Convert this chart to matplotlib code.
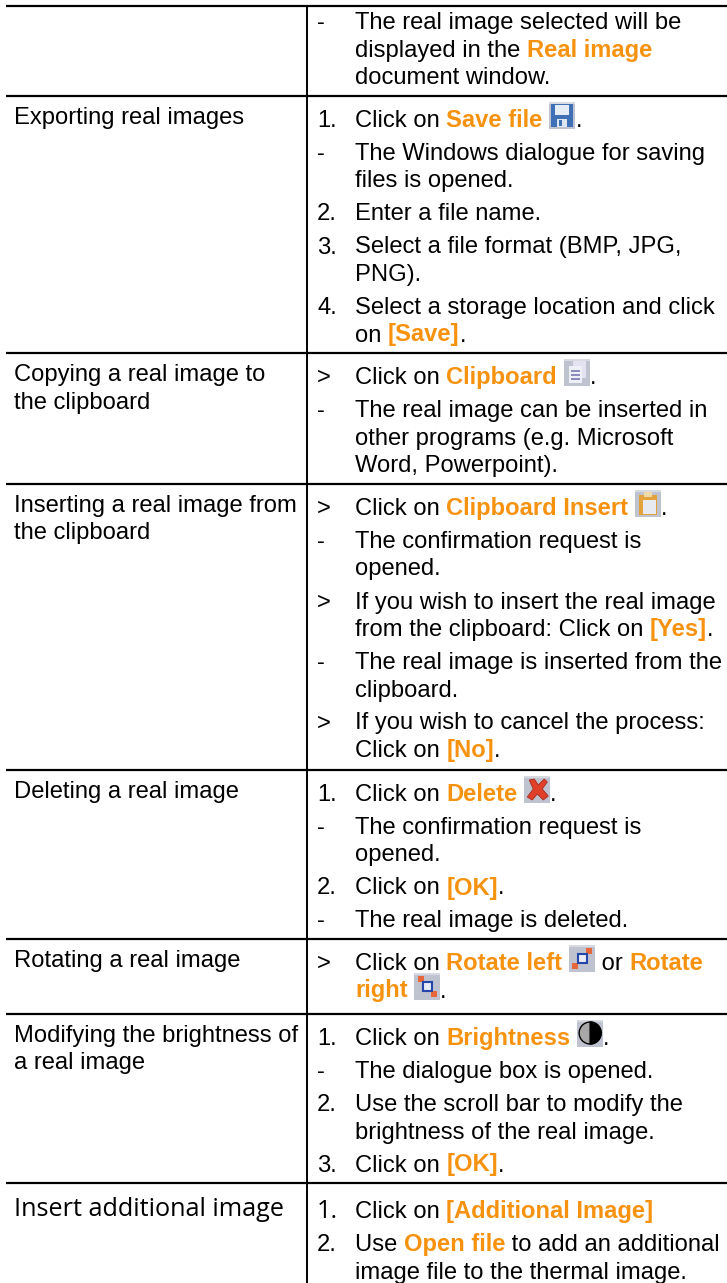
#! /usr/bin/env python
# -*- coding: utf-8 -*-
import re
import matplotlib
matplotlib.use('Agg')
from matplotlib import pyplot as plt
from matplotlib.patches import Rectangle, Circle, Wedge, Polygon

# table content: *bold orange*, {icon}
labels = [
    [],
    ['Exporting real images'],
    ['Copying a real image to', 'the clipboard'],
    ['Inserting a real image from', 'the clipboard'],
    ['Deleting a real image'],
    ['Rotating a real image'],
    ['Modifying the brightness of', 'a real image'],
    ['Insert additional image'],
]
steps = [
    [('-', ['The real image selected will be', 'displayed in the *Real image*', 'document window.'])],
    [('1.', ['Click on *Save file* {save}.']),
     ('-', ['The Windows dialogue for saving', 'files is opened.']),
     ('2.', ['Enter a file name.']),
     ('3.', ['Select a file format (BMP, JPG,', 'PNG).']),
     ('4.', ['Select a storage location and click', 'on *[Save]*.'])],
    [('>', ['Click on *Clipboard* {copy}.']),
     ('-', ['The real image can be inserted in', 'other programs (e.g. Microsoft', 'Word, Powerpoint).'])],
    [('>', ['Click on *Clipboard Insert* {paste}.']),
     ('-', ['The confirmation request is', 'opened.']),
     ('>', ['If you wish to insert the real image', 'from the clipboard: Click on *[Yes]*.']),
     ('-', ['The real image is inserted from the', 'clipboard.']),
     ('>', ['If you wish to cancel the process:', 'Click on *[No]*.'])],
    [('1.', ['Click on *Delete* {delete}.']),
     ('-', ['The confirmation request is', 'opened.']),
     ('2.', ['Click on *[OK]*.']),
     ('-', ['The real image is deleted.'])],
    [('>', ['Click on *Rotate left* {left} or *Rotate*', '*right* {right}.'])],
    [('1.', ['Click on *Brightness* {bright}.']),
     ('-', ['The dialogue box is opened.']),
     ('2.', ['Use the scroll bar to modify the', 'brightness of the real image.']),
     ('3.', ['Click on *[OK]*.'])],
    [('1.', ['Click on *[Additional Image]*']),
     ('2.', ['Use *Open file* to add an additional', 'image file to the thermal image.'])],
]
rule_y = [6, 96, 353, 484, 770, 939, 1014, 1183]

ORANGE = '#F7920F'
ARIAL = 'Liberation Sans'
OTHER = 'Open Sans'
FS = 17.15

fig = plt.figure(figsize=(7.27, 12.83), dpi=100)
ax = fig.add_axes([0, 0, 1, 1])
ax.set_xlim(0, 727)
ax.set_ylim(1283, 0)
ax.axis('off')
rend = fig.canvas.get_renderer()


def text_w(s, **kw):
    # the trailing dot keeps spaces in the measured width
    a = ax.text(0, 0, s + '.', **kw)
    b = ax.text(0, 0, '.', **kw)
    w = a.get_window_extent(rend).width - b.get_window_extent(rend).width
    a.remove()
    b.remove()
    return w


def box(x, y, w, h, c, z=3):
    ax.add_patch(Rectangle((x, y), w, h, fc=c, ec='none', zorder=z))


def draw_icon(name, x, base):
    top = base - 25
    box(x, top, 26, 27, '#BFC3CF')
    box(x, top, 26, 2, '#D8DAE2', 4)
    if name == 'save':
        box(x + 2, top + 2, 22, 23, '#3F6FB5', 4)
        box(x + 6, top + 3, 14, 10, '#E4ECF6', 5)
        box(x + 8, top + 17, 10, 8, '#DDE5F0', 5)
        box(x + 10, top + 18, 3, 6, '#3F6FB5', 6)
    elif name == 'copy':
        box(x + 9, top + 2, 13, 17, '#E2E2F0', 4)
        box(x + 5, top + 7, 13, 17, '#EFEFF7', 5)
        for dy in (11, 15, 19):
            box(x + 7, top + dy, 9, 1.5, '#8C8CBC', 6)
    elif name == 'paste':
        box(x + 4, top + 5, 18, 20, '#E2A23C', 4)
        box(x + 9, top + 2, 8, 5, '#F0D9A8', 5)
        box(x + 8, top + 10, 13, 14, '#E8EAF2', 5)
    elif name == 'delete':
        ax.add_patch(Polygon([(x + 5, top + 4), (x + 10, top + 3), (x + 14, top + 9), (x + 20, top + 3),
                              (x + 23, top + 6), (x + 18, top + 13), (x + 24, top + 20), (x + 19, top + 24),
                              (x + 13, top + 18), (x + 8, top + 24), (x + 3, top + 21), (x + 9, top + 13)],
                             fc='#E0402A', ec='#A82A1C', lw=0.6, zorder=4))
    elif name in ('left', 'right'):
        box(x + 9, top + 9, 9, 9, '#E8ECF6', 4)
        ax.add_patch(Rectangle((x + 9, top + 9), 9, 9, fc='none', ec='#2346A8', lw=1.5, zorder=5))
        if name == 'left':
            box(x + 17, top + 3, 6, 6, '#E8673A', 4)
            box(x + 3, top + 18, 6, 6, '#E8673A', 4)
        else:
            box(x + 4, top + 3, 6, 6, '#E8673A', 4)
            box(x + 17, top + 18, 6, 6, '#E8673A', 4)
    elif name == 'bright':
        ax.add_patch(Circle((x + 13, top + 13), 11, fc='#A8A8A8', ec='black', lw=1, zorder=4))
        ax.add_patch(Wedge((x + 13, top + 13), 11, -90, 90, fc='black', ec='black', zorder=5))


def draw_line(x, base, s, **kw):
    # text runs are placed one after another by their measured width
    for part in re.split(r'(\*[^*]*\*|\{[^}]*\})', s):
        if not part:
            continue
        if part[0] == '{':
            draw_icon(part[1:-1], x, base)
            x += 26
            continue
        bold = part[0] == '*'
        t = part.strip('*')
        c = ORANGE if bold else 'black'
        w = 'bold' if bold else 'normal'
        ax.text(x, base, t, color=c, fontweight=w, va='baseline', **kw)
        x += text_w(t, fontweight=w, **kw)


# rules
for y in rule_y:
    ax.plot([6, 727], [y, y], color='black', lw=1.6, solid_capstyle='butt')
ax.plot([307, 307], [rule_y[0], 1283], color='black', lw=1.4, solid_capstyle='butt')

for i, row in enumerate(steps):
    last = i == len(steps) - 1
    fam = OTHER if last else ARIAL
    lab_fs = 18.2 if last else FS
    y = rule_y[i] + (33 if last else 28)
    for j, l in enumerate(labels[i]):
        ax.text(14, y + j * 27.5, l, family=fam, fontsize=lab_fs, va='baseline')
    y = rule_y[i] + (35 if last else 31)
    if i == 0:
        y = rule_y[i] + 23
    for k, (mark, lines) in enumerate(row):
        big = last and k == 0
        ax.text(317, y, mark, family=OTHER if big else ARIAL, fontsize=18.2 if big else FS, va='baseline')
        for n, l in enumerate(lines):
            draw_line(355, y + n * 27.5, l, family=ARIAL, fontsize=FS)
        y += (len(lines) - 1) * 27.5 + 33

fig.savefig('out.png', dpi=100)
